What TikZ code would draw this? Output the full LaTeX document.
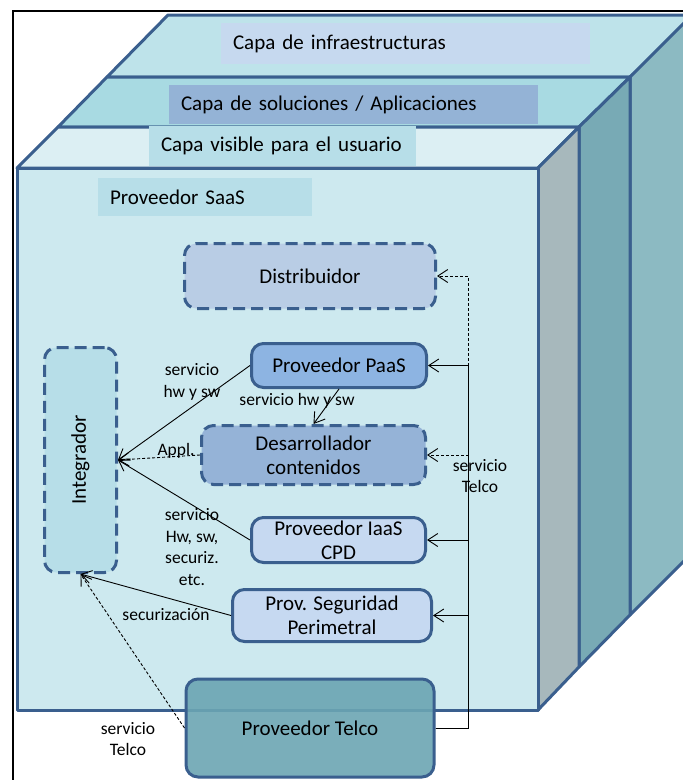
\documentclass[tikz,border=0pt]{standalone}
\usepackage{fontspec}
\setmainfont{Carlito}
\usetikzlibrary{arrows.meta}

\definecolor{edgeblue}{HTML}{3A5F8E}
\definecolor{faceFront}{HTML}{CDE9EF}
\definecolor{topFront}{HTML}{DCEFF3}
\definecolor{topMid}{HTML}{A8DAE2}
\definecolor{topBack}{HTML}{BEE3EA}
\definecolor{sideFront}{HTML}{A7B8BC}
\definecolor{sideMid}{HTML}{78AAB5}
\definecolor{sideBack}{HTML}{8CBAC2}
\definecolor{tagInfra}{HTML}{C6D9EF}
\definecolor{tagSol}{HTML}{94B3D6}
\definecolor{tagVis}{HTML}{B7DEE8}
\definecolor{distrib}{HTML}{B9CDE5}
\definecolor{paas}{HTML}{8DB4E2}
\definecolor{desarr}{HTML}{95B3D7}
\definecolor{iaas}{HTML}{C6D9F1}
\definecolor{telco}{HTML}{6BA5B3}

\begin{document}
\begin{tikzpicture}[x=1pt, y=-1pt,
    slab/.style={draw=edgeblue, line width=3pt, line join=round},
    tag/.style={inner xsep=12pt, inner ysep=0pt, anchor=center, align=left,
        font=\fontsize{21}{25}\selectfont},
    box/.style={draw=edgeblue, line width=3pt, rounded corners=12pt, inner sep=0pt,
        align=center, font=\fontsize{21}{24}\selectfont},
    dbox/.style={box, dash pattern=on 12pt off 6pt},
    lab/.style={align=center, inner sep=0pt, font=\fontsize{17.5}{21.5}\selectfont},
    link/.style={-{Straight Barb[length=10pt,width=13pt]}, line width=0.9pt},
    dlink/.style={link, dash pattern=on 3pt off 2pt}]
    \useasboundingbox (0,0) rectangle (683,780);
    \clip (0,0) rectangle (683,780);

    % Back slab
    \draw[slab, fill=topBack] (107,77) -- (168,15) -- (700,15) -- (630,77) -- cycle;
    \draw[slab, fill=sideBack] (630,77) -- (692,15) -- (692,553) -- (630,615) -- cycle;
    % Middle slab
    \draw[slab, fill=topMid] (58,127) -- (107,77) -- (630,77) -- (579,127) -- cycle;
    \draw[slab, fill=sideMid] (579,127) -- (630,77) -- (630,615) -- (579,667) -- cycle;
    % Front slab
    \draw[slab, fill=topFront] (17,168) -- (58,127) -- (579,127) -- (538,168) -- cycle;
    \draw[slab, fill=sideFront] (538,168) -- (579,127) -- (579,667) -- (538,710) -- cycle;
    \draw[slab, fill=faceFront] (17,168) rectangle (538,710);

    % Frame
    \draw[black, line width=1.5pt] (13,800) |- (700,11);

    % Layer tags
    \node[tag, fill=tagInfra, text width=345pt, minimum height=41pt] (infra) at (405.5,43.5) {\mbox{Capa de infraestructuras}};
    \node[tag, fill=tagSol, text width=345pt, minimum height=39pt] (sol) at (353.5,104.5) {\mbox{Capa de soluciones / Aplicaciones}};
    \node[tag, fill=tagVis, text width=243pt, minimum height=40pt] (visible) at (282.5,146) {\mbox{Capa visible para el usuario}};
    \node[tag, fill=tagVis, text width=190pt, minimum height=38pt] (saas) at (205,197) {\mbox{Proveedor SaaS}};

    % Actors
    \node[dbox, fill=distrib, minimum width=251pt, minimum height=65pt] (Distribuidor) at (310,276) {Distribuidor};
    \node[box, fill=paas, minimum width=175pt, minimum height=44pt] (PaaS) at (339,365.5) {Proveedor PaaS};
    \node[dbox, fill=desarr, minimum width=224pt, minimum height=59pt] (Desarrollador) at (313.5,455) {Desarrollador\\contenidos};
    \node[box, fill=iaas, minimum width=174pt, minimum height=45pt] (IaaS) at (338.5,540) {Proveedor IaaS\\CPD};
    \node[box, fill=iaas, minimum width=199pt, minimum height=52pt] (Seguridad) at (332,615.5) {Prov. Seguridad\\Perimetral};
    \node[box, fill=telco, fill opacity=0.9, text opacity=1, minimum width=248pt, minimum height=98pt] (Telco) at (310,728) {Proveedor Telco};
    \node[dbox, fill=tagVis, minimum width=72pt, minimum height=225pt] (Integrador) at (80.5,460) {\rotatebox{90}{Integrador}};

    % Telco bus
    \coordinate (bus) at (468,0);
    \draw[dlink] (Telco.east) -| (bus |- Distribuidor.east) -- (Distribuidor.east);
    \draw[dlink] (Telco.east) -| (bus |- Desarrollador.east) -- (Desarrollador.east);
    \draw[link] (Telco.east) -| (bus |- PaaS.east) -- (PaaS.east);
    \draw[link] (Telco.east) -| (bus |- IaaS.east) -- (IaaS.east);
    \draw[link] (Telco.east) -| (bus |- Seguridad.east) -- (Seguridad.east);

    % Services to the integrator
    \draw[link] (PaaS.west) -- (Integrador.east);
    \draw[dlink] (Desarrollador.west) -- (Integrador.east);
    \draw[link] (IaaS.west) -- (Integrador.east);
    \draw[link] (Seguridad.west) -- (Integrador.south);
    \draw[dlink] (Telco.west) -- (Integrador.south);
    \draw[link] (PaaS.south) -- (Desarrollador.north);

    % Labels
    \node[lab] (l1) at (192,382) {servicio\\hw y sw};
    \node[lab] (l2) at (297,401) {servicio hw y sw};
    \node[lab] (l3) at (176,451) {Appl.};
    \node[lab] (l4) at (192,547) {servicio\\Hw, sw,\\securiz.\\etc.};
    \node[lab] (l5) at (166,615) {securización};
    \node[lab] (l6) at (128,739) {servicio\\Telco};
    \node[lab] (l7) at (480,476) {servicio\\Telco};
\end{tikzpicture}
\end{document}
